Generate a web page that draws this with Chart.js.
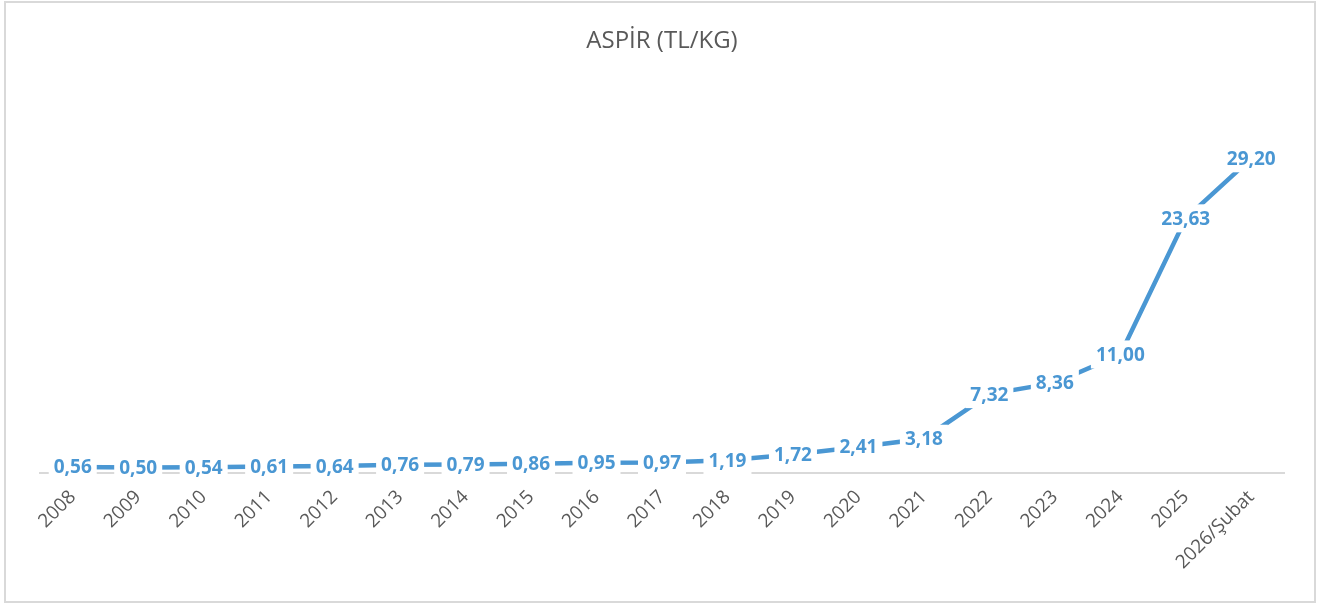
<!DOCTYPE html>
<html>
<head>
<meta charset="utf-8">
<script src="https://cdn.jsdelivr.net/npm/chart.js@4/dist/chart.umd.min.js"></script>
<style>
  html, body { margin: 0; padding: 0; background: #fff; }
  #wrap { width: 1324px; height: 606px; }
</style>
</head>
<body>
<div id="wrap"><canvas id="aspirChart" width="1324" height="606"></canvas></div>
<script>
var years = ["2008", "2009", "2010", "2011", "2012", "2013", "2014", "2015", "2016", "2017",
  "2018", "2019", "2020", "2021", "2022", "2023", "2024", "2025", "2026/Şubat"];
var prices = [0.56, 0.50, 0.54, 0.61, 0.64, 0.76, 0.79, 0.86, 0.95, 0.97,
  1.19, 1.72, 2.41, 3.18, 7.32, 8.36, 11.00, 23.63, 29.20];

var blue = "#4a97d3";

// labels sit on the points with a white box, like the Excel original
var labelPlugin = {
  id: "pointLabels",
  afterDatasetsDraw: function (chart) {
    var ctx = chart.ctx;
    var meta = chart.getDatasetMeta(0);
    ctx.save();
    ctx.font = "bold 19px 'Open Sans', sans-serif";
    ctx.textAlign = "center";
    ctx.textBaseline = "middle";
    meta.data.forEach(function (pt, i) {
      var text = prices[i].toFixed(2).replace(".", ",");
      var w = ctx.measureText(text).width;
      ctx.fillStyle = "#ffffff";
      ctx.fillRect(pt.x - w / 2 - 5, pt.y - 14, w + 10, 28);
      ctx.fillStyle = blue;
      ctx.fillText(text, pt.x, pt.y + 1);
    });
    ctx.restore();
  }
};

var framePlugin = {
  id: "frame",
  afterDraw: function (chart) {
    var ctx = chart.ctx;
    ctx.save();
    ctx.strokeStyle = "#d9d9d9";
    ctx.lineWidth = 2;
    ctx.strokeRect(5, 2, 1310, 600);
    ctx.restore();
  }
};

var ctx = document.getElementById("aspirChart");
var chart = new Chart(ctx, {
  type: "line",
  data: {
    labels: years,
    datasets: [{
      data: prices,
      borderColor: blue,
      borderWidth: 4.5,
      pointRadius: 0,
      tension: 0,
      fill: false
    }]
  },
  options: {
    responsive: false,
    animation: false,
    layout: { padding: { left: 40, right: 40, top: 0, bottom: 0 } },
    plugins: {
      legend: { display: false },
      tooltip: { enabled: false },
      title: {
        display: true,
        text: "ASPİR (TL/KG)",
        color: "#595959",
        font: { family: "'Open Sans', sans-serif", size: 24, weight: "normal" },
        padding: { top: 27, bottom: 40 }
      }
    },
    scales: {
      x: {
        offset: true,
        grid: { display: false, drawTicks: false },
        border: { display: true, color: "#d9d9d9", width: 2 },
        ticks: {
          color: "#595959",
          font: { family: "'Open Sans', sans-serif", size: 19 },
          minRotation: 45,
          maxRotation: 45,
          padding: 13,
          autoSkip: false
        },
        afterFit: function (scale) { scale.height = 133; }
      },
      y: {
        display: false,
        min: 0,
        max: 35
      }
    }
  },
  plugins: [labelPlugin, framePlugin]
});
</script>
</body>
</html>
